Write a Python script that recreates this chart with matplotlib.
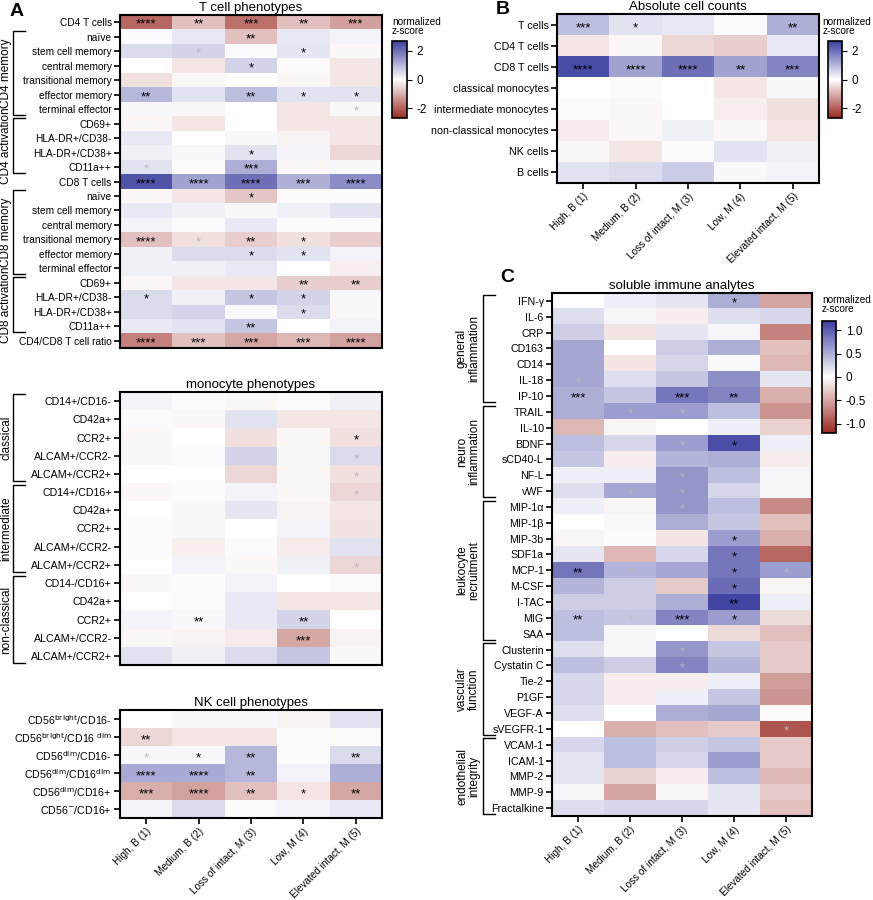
import numpy as np
import matplotlib
matplotlib.use("Agg")
import matplotlib.pyplot as plt
from matplotlib.colors import LinearSegmentedColormap
from matplotlib.transforms import blended_transform_factory

plt.rcParams['font.family'] = ['Liberation Sans', 'DejaVu Sans']
plt.rcParams['axes.unicode_minus'] = False

groups = ["High, B (1)", "Medium, B (2)", "Loss of intact, M (3)", "Low, M (4)", "Elevated intact, M (5)"]

# ---- panel A: T cells ----
t_rows = ["CD4 T cells", "naïve", "stem cell memory", "central memory", "transitional memory",
          "effector memory", "terminal effector", "CD69+", "HLA-DR+/CD38-", "HLA-DR+/CD38+", "CD11a++",
          "CD8 T cells", "naïve", "stem cell memory", "central memory", "transitional memory",
          "effector memory", "terminal effector", "CD69+", "HLA-DR+/CD38-", "HLA-DR+/CD38+", "CD11a++",
          "CD4/CD8 T cell ratio"]
t_vals = [[-1.9, -0.8, -1.8, -0.8, -1.2],
          [0.05, 0.3, -0.8, 0.3, 0.15],
          [0.5, 0.6, 0.05, 0.35, -0.1],
          [0.0, -0.3, 0.6, -0.05, -0.3],
          [-0.4, -0.1, 0.0, -0.1, -0.3],
          [1.0, 0.4, 0.9, 0.4, 0.4],
          [0.1, -0.1, 0.0, -0.3, 0.1],
          [-0.1, -0.3, 0.0, -0.3, -0.3],
          [0.3, 0.0, 0.1, -0.15, -0.3],
          [0.2, 0.1, 0.4, 0.15, -0.5],
          [0.4, -0.05, 1.1, -0.1, 0.1],
          [2.4, 1.3, 2.0, 1.1, 1.6],
          [-0.1, -0.3, -0.7, 0.05, 0.05],
          [0.3, 0.2, 0.1, 0.2, 0.4],
          [0.15, 0.05, 0.3, 0.05, 0.05],
          [-0.8, -0.4, -0.6, -0.4, -0.6],
          [0.2, 0.5, 0.5, 0.4, 0.15],
          [0.2, 0.2, 0.3, 0.0, -0.2],
          [-0.1, -0.3, -0.3, -0.6, -0.6],
          [0.5, 0.2, 0.8, 0.6, 0.1],
          [0.5, 0.6, 0.1, 0.5, -0.1],
          [0.3, 0.4, 0.8, 0.0, 0.15],
          [-1.6, -0.8, -1.1, -0.9, -1.2]]
# "g" prefix = grey star
t_stars = [["****", "**", "***", "**", "***"],
           ["", "", "**", "", ""],
           ["", "g*", "", "*", ""],
           ["", "", "*", "", ""],
           ["", "", "", "", ""],
           ["**", "", "**", "*", "*"],
           ["", "", "", "", "g*"],
           ["", "", "", "", ""],
           ["", "", "", "", ""],
           ["", "", "*", "", ""],
           ["g*", "", "***", "", ""],
           ["****", "****", "****", "***", "****"],
           ["", "", "*", "", ""],
           ["", "", "", "", ""],
           ["", "", "", "", ""],
           ["****", "g*", "**", "*", ""],
           ["", "", "*", "*", ""],
           ["", "", "", "", ""],
           ["", "", "", "**", "**"],
           ["*", "", "*", "*", ""],
           ["", "", "", "*", ""],
           ["", "", "**", "", ""],
           ["****", "***", "***", "***", "****"]]
t_brackets = [("CD4 memory", 1, 6), ("CD4 activation", 7, 10), ("CD8 memory", 12, 17), ("CD8 activation", 18, 21)]

# ---- monocytes ----
m_rows = ["CD14+/CD16-", "CD42a+", "CCR2+", "ALCAM+/CCR2-", "ALCAM+/CCR2+",
          "CD14+/CD16+", "CD42a+", "CCR2+", "ALCAM+/CCR2-", "ALCAM+/CCR2+",
          "CD14-/CD16+", "CD42a+", "CCR2+", "ALCAM+/CCR2-", "ALCAM+/CCR2+"]
m_vals = [[0.15, 0.05, -0.1, 0.05, 0.2],
          [0.05, -0.1, 0.4, -0.3, -0.3],
          [-0.1, 0.0, -0.4, -0.1, -0.4],
          [0.1, 0.05, 0.6, 0.1, 0.5],
          [0.0, 0.0, -0.5, -0.1, -0.4],
          [-0.1, -0.05, 0.15, -0.1, -0.5],
          [0.0, -0.1, 0.35, -0.15, -0.3],
          [-0.05, 0.1, 0.02, 0.15, -0.35],
          [0.05, -0.2, 0.05, -0.25, 0.4],
          [0.0, 0.15, -0.1, 0.2, -0.5],
          [-0.1, -0.03, 0.15, 0.0, -0.05],
          [0.0, -0.05, 0.3, -0.3, -0.3],
          [0.15, 0.1, 0.3, 0.6, 0.0],
          [-0.1, -0.15, -0.25, -1.1, -0.15],
          [0.4, 0.2, 0.5, 0.8, -0.1]]
m_stars = [["", "", "", "", ""],
           ["", "", "", "", ""],
           ["", "", "", "", "*"],
           ["", "", "", "", "g*"],
           ["", "", "", "", "g*"],
           ["", "", "", "", "g*"],
           ["", "", "", "", ""],
           ["", "", "", "", ""],
           ["", "", "", "", ""],
           ["", "", "", "", "g*"],
           ["", "", "", "", ""],
           ["", "", "", "", ""],
           ["", "**", "", "**", ""],
           ["", "", "", "***", ""],
           ["", "", "", "", ""]]
m_brackets = [("classical", 0, 4), ("intermediate", 5, 9), ("non-classical", 10, 14)]

# ---- NK cells ----
nk_rows = ["CD56$^{\\mathrm{bright}}$/CD16-", "CD56$^{\\mathrm{bright}}$/CD16$^{\\mathrm{\\ dim}}$",
           "CD56$^{\\mathrm{dim}}$/CD16-", "CD56$^{\\mathrm{dim}}$/CD16$^{\\mathrm{dim}}$",
           "CD56$^{\\mathrm{dim}}$/CD16+", "CD56$^{\\mathrm{-}}$/CD16+"]
nk_vals = [[0.02, -0.1, 0.1, -0.15, 0.4],
           [-0.5, -0.3, -0.3, 0.05, -0.05],
           [0.1, 0.1, 1.0, -0.03, 0.5],
           [1.2, 1.2, 1.0, 0.15, 1.1],
           [-1.0, -1.2, -0.8, -0.3, -1.1],
           [0.15, 0.5, 0.05, 0.15, 0.3]]
nk_stars = [["", "", "", "", ""],
            ["**", "", "", "", ""],
            ["g*", "*", "**", "", "**"],
            ["****", "****", "**", "", ""],
            ["***", "****", "**", "*", "**"],
            ["", "", "", "", ""]]

# ---- panel B ----
b_rows = ["T cells", "CD4 T cells", "CD8 T cells", "classical monocytes", "intermediate monocytes",
          "non-classical monocytes", "NK cells", "B cells"]
b_vals = [[0.9, 0.4, 0.3, 0.05, 1.1],
          [-0.3, -0.1, -0.5, -0.6, 0.3],
          [2.5, 1.3, 2.0, 1.3, 1.7],
          [0.02, 0.05, 0.02, -0.3, 0.1],
          [-0.05, -0.1, 0.0, -0.2, -0.4],
          [-0.25, -0.1, 0.2, -0.1, -0.3],
          [-0.1, -0.3, 0.05, 0.4, 0.2],
          [0.4, 0.5, 0.7, 0.1, 0.15]]
b_stars = [["***", "*", "", "", "**"],
           ["", "", "", "", ""],
           ["****", "****", "****", "**", "***"],
           [""] * 5, [""] * 5, [""] * 5, [""] * 5, [""] * 5]

# ---- panel C ----
c_rows = ["IFN-γ", "IL-6", "CRP", "CD163", "CD14", "IL-18", "IP-10",
          "TRAIL", "IL-10", "BDNF", "sCD40-L", "NF-L", "vWF",
          "MIP-1α", "MIP-1β", "MIP-3b", "SDF1a", "MCP-1", "M-CSF", "I-TAC", "MIG", "SAA",
          "Clusterin", "Cystatin C", "Tie-2", "P1GF", "VEGF-A", "sVEGFR-1",
          "VCAM-1", "ICAM-1", "MMP-2", "MMP-9", "Fractalkine"]
c_vals = [[0.0, 0.1, 0.15, 0.5, -0.5],
          [0.2, 0.05, -0.1, 0.2, 0.25],
          [0.3, -0.15, 0.15, 0.05, -0.7],
          [0.55, 0.0, 0.3, 0.5, -0.35],
          [0.55, -0.15, 0.25, 0.03, -0.4],
          [0.55, 0.2, 0.35, 0.7, 0.15],
          [0.5, 0.35, 0.85, 0.75, -0.45],
          [0.5, 0.6, 0.6, 0.4, -0.6],
          [-0.4, -0.05, 0.0, 0.1, -0.25],
          [0.4, 0.25, 0.6, 1.1, 0.1],
          [0.35, -0.1, 0.45, 0.5, -0.1],
          [0.1, 0.1, 0.65, 0.4, 0.05],
          [0.2, 0.55, 0.65, 0.25, 0.05],
          [0.1, -0.05, 0.65, 0.4, -0.65],
          [0.0, 0.03, 0.5, 0.35, -0.35],
          [-0.05, 0.02, -0.15, 0.6, -0.45],
          [0.15, -0.4, 0.25, 0.85, -0.85],
          [0.85, 0.45, 0.55, 0.85, 0.6],
          [0.45, 0.3, -0.3, 0.9, -0.05],
          [0.3, 0.3, 0.5, 1.15, 0.1],
          [0.4, 0.35, 0.75, 0.6, -0.2],
          [0.4, 0.05, 0.0, -0.2, -0.35],
          [0.2, 0.05, 0.65, 0.35, -0.3],
          [0.4, 0.3, 0.75, 0.45, -0.3],
          [0.25, -0.1, -0.1, 0.1, -0.55],
          [0.25, -0.1, 0.1, 0.35, -0.6],
          [0.2, 0.0, 0.5, 0.55, -0.03],
          [0.0, -0.45, -0.35, -0.3, -0.95],
          [0.25, 0.4, 0.3, 0.35, -0.3],
          [0.15, 0.4, 0.25, 0.6, -0.3],
          [0.15, -0.25, -0.1, 0.4, -0.4],
          [0.05, -0.5, -0.05, 0.15, -0.3],
          [0.2, 0.25, 0.25, 0.15, -0.35]]
c_stars = [["", "", "", "*", ""], [""] * 5, [""] * 5, [""] * 5, [""] * 5,
           ["g*", "", "", "", ""],
           ["***", "", "***", "**", ""],
           ["", "g*", "g*", "", ""],
           [""] * 5,
           ["", "", "g*", "*", ""],
           [""] * 5,
           ["", "", "g*", "", ""],
           ["", "g*", "g*", "", ""],
           ["", "", "g*", "", ""],
           [""] * 5,
           ["", "", "", "*", ""],
           ["", "", "", "*", ""],
           ["**", "g*", "", "*", "g*"],
           ["", "", "", "*", ""],
           ["", "", "", "**", ""],
           ["**", "g*", "***", "*", ""],
           [""] * 5,
           ["", "", "g*", "", ""],
           ["", "", "g*", "", ""],
           [""] * 5, [""] * 5, [""] * 5,
           ["", "", "", "", "g*"],
           [""] * 5, [""] * 5, [""] * 5, [""] * 5, [""] * 5]
c_brackets = [("general\ninflammation", 0, 6), ("neuro\ninflammation", 7, 12),
              ("leukocyte\nrecruitment", 13, 21), ("vascular\nfunction", 22, 27),
              ("endothelial\nintegrity", 28, 32)]

cmap = LinearSegmentedColormap.from_list("rdbu_z", ["#9a2a22", "#ffffff", "#3b3f9f"])

W, H = 873, 900
fig = plt.figure(figsize=(W / 100, H / 100), dpi=100)


def px_axes(x, y, w, h):
    return fig.add_axes([x / W, 1 - (y + h) / H, w / W, h / H])


def heat(box, rows, vals, stars, vlim, title, xlabels=True, yfs=7.7):
    ax = px_axes(*box)
    im = ax.imshow(np.array(vals), cmap=cmap, vmin=-vlim, vmax=vlim, aspect='auto')
    ax.set_yticks(range(len(rows)))
    ax.set_yticklabels(rows, fontsize=yfs)
    ax.tick_params(axis='y', length=4, width=1.2, pad=2)
    if xlabels:
        ax.set_xticks(range(len(groups)))
        ax.set_xticklabels(groups, rotation=45, ha='right', rotation_mode='anchor', fontsize=7.2)
        ax.tick_params(axis='x', length=4, width=1.2, pad=2)
    else:
        ax.set_xticks([])
    for s in ax.spines.values():
        s.set_linewidth(1.5)
    ax.set_title(title, fontsize=9.5, pad=3)
    for i, r in enumerate(stars):
        for j, s in enumerate(r):
            if not s:
                continue
            col = '#b8b8b8' if s.startswith('g') else 'black'
            ax.text(j, i + 0.18, s.lstrip('g'), ha='center', va='center', fontsize=9.5, color=col)
    return ax, im


def brackets(ax, box, items, xline, xlab):
    tr = blended_transform_factory(ax.transAxes, ax.transData)
    x0 = (xline - box[0]) / box[2]
    x1 = (xline + 12 - box[0]) / box[2]
    xl = (xlab - box[0]) / box[2]
    for name, a, b in items:
        ax.plot([x1, x0, x0, x1], [a - 0.4, a - 0.4, b + 0.4, b + 0.4], color='black',
                lw=1.0, transform=tr, clip_on=False)
        ax.text(xl, (a + b) / 2, name, rotation=90, ha='center', va='center', fontsize=8.5,
                transform=tr, linespacing=1.0)


def cbar(im, box, ticks, labels, lx=0.0):
    cax = px_axes(*box)
    cb = fig.colorbar(im, cax=cax, ticks=ticks)
    cb.ax.set_yticklabels(labels, fontsize=8.5)
    cb.outline.set_linewidth(1.2)
    cax.text(lx, 1.06, "normalized\nz-score", transform=cax.transAxes, fontsize=7.2,
             ha='left', va='bottom', linespacing=0.95)


boxA = (120, 15, 262, 333)
axA, imA = heat(boxA, t_rows, t_vals, t_stars, 2.7, "T cell phenotypes", xlabels=False, yfs=7.3)
brackets(axA, boxA, t_brackets, 13, 6)
cbar(imA, (392, 41, 15, 77), [-2, 0, 2], ["-2", "0", "2"])

boxM = (120, 392, 262, 273)
axM, _ = heat(boxM, m_rows, m_vals, m_stars, 2.7, "monocyte phenotypes", xlabels=False)
brackets(axM, boxM, m_brackets, 13, 6)

boxN = (120, 710, 262, 108)
heat(boxN, nk_rows, nk_vals, nk_stars, 2.7, "NK cell phenotypes")

boxB = (557, 14, 262, 169)
axB, imB = heat(boxB, b_rows, b_vals, b_stars, 2.7, "Absolute cell counts")
cbar(imB, (828, 41, 14, 77), [-2, 0, 2], ["-2", "0", "2"], lx=-0.4)

boxC = (552, 293, 260, 523)
axC, imC = heat(boxC, c_rows, c_vals, c_stars, 1.2, "soluble immune analytes")
brackets(axC, boxC, c_brackets, 483, 468)
cbar(imC, (822, 321, 14, 112), [-1.0, -0.5, 0, 0.5, 1.0], ["-1.0", "-0.5", "0", "0.5", "1.0"])

for letter, x, y in [("A", 10, 12), ("B", 496, 10), ("C", 500, 278)]:
    fig.text(x / W, 1 - y / H, letter, fontsize=14, fontweight='bold', va='center')

plt.savefig("out.png", dpi=100)
